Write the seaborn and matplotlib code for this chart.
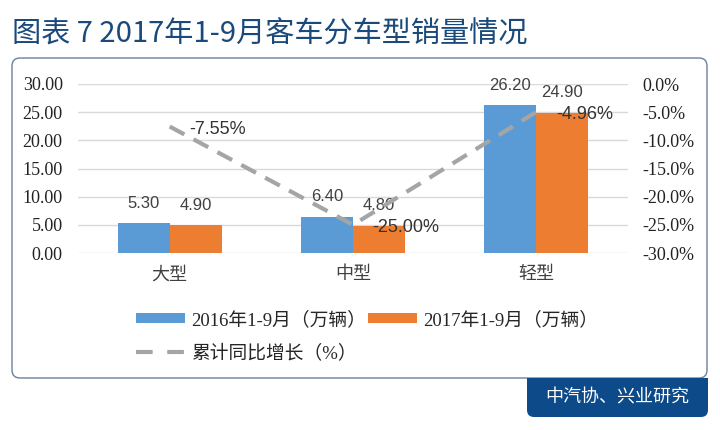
import numpy as np
import pandas as pd
import matplotlib
matplotlib.use('Agg')
import matplotlib.pyplot as plt
from matplotlib.patches import FancyBboxPatch, Rectangle, Patch
from matplotlib.lines import Line2D
import seaborn as sns

# 数据
categories = ['大型', '中型', '轻型']
sales_2016 = [5.30, 6.40, 26.20]
sales_2017 = [4.90, 4.80, 24.90]
growth_pct = [-7.55, -25.00, -4.96]
series_names = ['2016年1-9月（万辆）', '2017年1-9月（万辆）']
line_name = '累计同比增长（%）'
title = '图表 7 2017年1-9月客车分车型销量情况'
source = '中汽协、兴业研究'

blue = '#5B9BD5'
orange = '#ED7D31'
grey = '#A5A5A5'
navy = '#1a4a7c'

sns.set_theme(style='white')
plt.rcParams['font.family'] = ['Noto Sans CJK SC', 'DejaVu Sans']

df = pd.DataFrame({
    'cat': categories * 2,
    'value': sales_2016 + sales_2017,
    'series': [series_names[0]] * 3 + [series_names[1]] * 3,
})

fig = plt.figure(figsize=(7.2, 4.3), dpi=100)

# 外框和来源框
fig.patches.append(FancyBboxPatch((0.12, 0.52), 6.95, 3.2,
                                  boxstyle='round,pad=0,rounding_size=0.08',
                                  transform=fig.dpi_scale_trans, zorder=-2,
                                  facecolor='white', edgecolor='#6b8199', lw=1.0))
fig.patches.append(FancyBboxPatch((5.27, 0.13), 1.81, 0.39,
                                  boxstyle='round,pad=0,rounding_size=0.07',
                                  transform=fig.dpi_scale_trans, zorder=-1,
                                  facecolor='#0d4a8a', edgecolor='none'))
fig.patches.append(Rectangle((5.27, 0.32), 1.81, 0.20,
                             transform=fig.dpi_scale_trans, zorder=-1,
                             facecolor='#0d4a8a', edgecolor='none'))
fig.text(6.175 / 7.2, 1 - 397 / 430, source, color='white', fontsize=13,
         ha='center', va='center', fontweight='medium')

fig.text(12 / 720, 1 - 35 / 430, title, color=navy, fontsize=21,
         ha='left', va='center', fontweight='medium')

ax = fig.add_axes([78 / 720, 1 - 253 / 430, 550 / 720, 169 / 430])
ax.set_facecolor('none')
sns.barplot(data=df, x='cat', y='value', hue='series', palette=[blue, orange],
            width=0.567, saturation=1, ax=ax, legend=False,
            edgecolor='none', linewidth=0)
ax.set_ylim(0, 30)
ax.set_yticks(np.arange(0, 31, 5))
ax.set_yticklabels([f'{v:.2f}' for v in np.arange(0, 31, 5)],
                   family=['Liberation Serif', 'DejaVu Serif'], fontsize=13, color='#222222')
ax.set_xlabel('')
ax.set_ylabel('')
ax.tick_params(axis='x', labelsize=13, labelcolor='#404040', length=0, pad=9)
ax.tick_params(axis='y', length=0, pad=11)
ax.grid(axis='y', color='#d9d9d9', lw=1)
ax.set_axisbelow(True)
for s in ax.spines.values():
    s.set_visible(False)

for cont in ax.containers:
    ax.bar_label(cont, fmt='%.2f', padding=9, fontsize=12, color='#404040',
                 family=['Liberation Sans', 'DejaVu Sans'])

ax2 = ax.twinx()
sns.lineplot(x=np.arange(len(categories)), y=growth_pct, ax=ax2, color=grey,
             lw=3, linestyle=(0, (4, 2.5)))
ax.set_xlim(-0.5, len(categories) - 0.5)
ax2.set_ylim(-30, 0)
ticks2 = np.arange(-30, 1, 5)
ax2.set_yticks(ticks2)
ax2.set_yticklabels([f'{v:.1f}%' for v in ticks2],
                    family=['Liberation Serif', 'DejaVu Serif'], fontsize=13, color='#222222')
ax2.tick_params(axis='y', length=0, pad=10)
for s in ax2.spines.values():
    s.set_visible(False)
for i, g in enumerate(growth_pct):
    ax2.annotate(f'{g:.2f}%', (i, g), xytext=(14, -2), textcoords='offset points',
                 ha='left', va='center', fontsize=13, color='#333333',
                 family=['Liberation Sans', 'DejaVu Sans'])

handles = [Patch(facecolor=blue, edgecolor='none'),
           Line2D([0], [0], color=grey, lw=3, linestyle=(0, (4, 3.5))),
           Patch(facecolor=orange, edgecolor='none')]
labels = [series_names[0], line_name, series_names[1]]
fig.legend(handles, labels, loc='upper left', bbox_to_anchor=(136 / 720, 1 - 311 / 430),
           ncol=2, frameon=False, borderpad=0, borderaxespad=0,
           handlelength=2.6, handleheight=0.4, handletextpad=0.35,
           columnspacing=0.1, labelspacing=0.8,
           prop={'family': ['Liberation Serif', 'Noto Sans CJK SC'], 'size': 13.5})

plt.savefig('out.png', dpi=100)
